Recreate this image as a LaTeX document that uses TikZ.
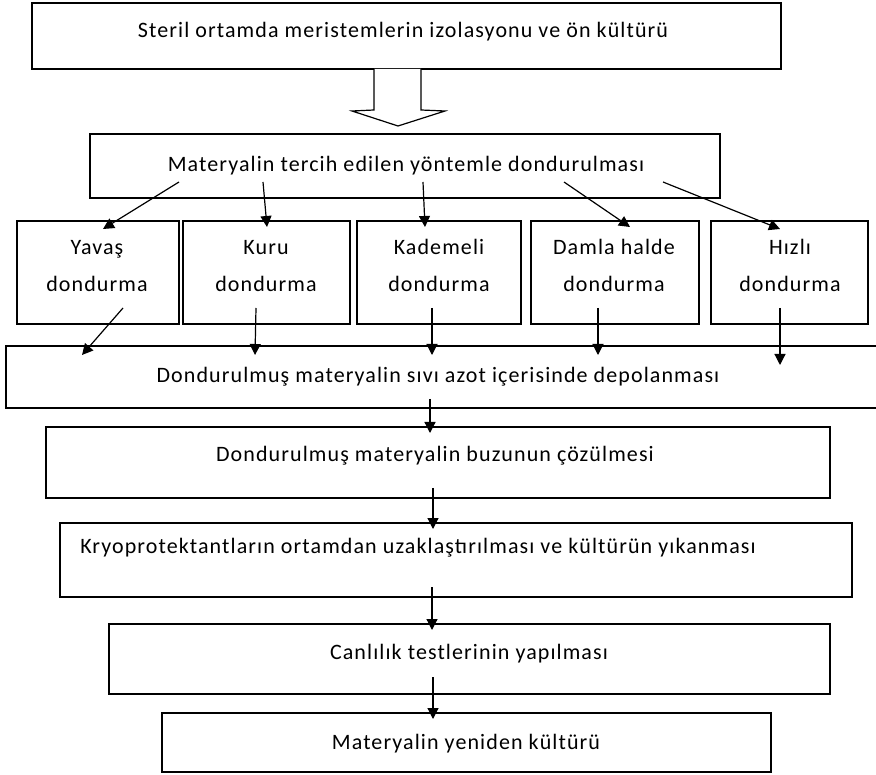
\documentclass[tikz,border=0pt]{standalone}
\usepackage{fontspec}
\setmainfont{Carlito}[LetterSpace=5]
\usetikzlibrary{arrows.meta,calc}
\begin{document}
\begin{tikzpicture}[x=1pt,y=-1pt,
  box/.style={draw=black, line width=1.4pt, rectangle, inner sep=0pt, outer sep=0pt},
  lbl/.style={font=\fontsize{22}{37}\selectfont, inner sep=0pt, anchor=base, align=center},
  arr/.style={draw=black, line width=1.2pt, -{Triangle[length=11pt,width=11pt]}}]
\useasboundingbox (0,0) rectangle (876,775);
\fill[white] (0,0) rectangle (876,775);

% process boxes
\node[box, minimum width=749pt, minimum height=66pt] (s1) at (406.5,36) {};
\node[box, minimum width=630pt, minimum height=64pt] (b2) at (405,166) {};
\node[box, minimum width=162pt, minimum height=103pt] (ya) at (98,272.5) {};
\node[box, minimum width=167pt, minimum height=103pt] (ku) at (266.5,272.5) {};
\node[box, minimum width=164pt, minimum height=103pt] (ka) at (439,272.5) {};
\node[box, minimum width=168pt, minimum height=103pt] (da) at (615,272.5) {};
\node[box, minimum width=157pt, minimum height=103pt] (hi) at (789.5,272.5) {};
\node[box, minimum width=874pt, minimum height=62pt] (st) at (443,377) {};
\node[box, minimum width=784pt, minimum height=71pt] (th) at (438,462.5) {};
\node[box, minimum width=792pt, minimum height=74pt] (kr) at (456,560) {};
\node[box, minimum width=721pt, minimum height=70pt] (ca) at (469.5,659) {};
\node[box, minimum width=609pt, minimum height=59pt] (fi) at (466.5,742.5) {};

% box texts (base anchor sits on the last line)
\node[lbl] (t-s1) at (403,38) {Steril ortamda meristemlerin izolasyonu ve ön kültürü};
\node[lbl] (t-b2) at (406,172) {Materyalin tercih edilen yöntemle dondurulması};
\node[lbl] (t-ya) at (97,292) {Yavaş\\dondurma};
\node[lbl] (t-ku) at (266,292) {Kuru\\dondurma};
\node[lbl] (t-ka) at (439,292) {Kademeli\\dondurma};
\node[lbl] (t-da) at (614,292) {Damla halde\\dondurma};
\node[lbl] (t-hi) at (790,292) {Hızlı\\dondurma};
\node[lbl] (t-st) at (438,383) {Dondurulmuş materyalin sıvı azot içerisinde depolanması};
\node[lbl] (t-th) at (435,462) {Dondurulmuş materyalin buzunun çözülmesi};
\node[lbl] (t-kr) at (418,553) {Kryoprotektantların ortamdan uzaklaştırılması ve kültürün yıkanması};
\node[lbl] (t-ca) at (469,659) {Canlılık testlerinin yapılması};
\node[lbl] (t-fi) at (466,749) {Materyalin yeniden kültürü};

% hollow block arrow between the first two boxes
\draw[line width=1.2pt, fill=white, line join=miter]
  ($(s1.south)+(-32.5,0)$) -- ++(0,41) -- ++(-22,1) -- ($(s1.south)+(-8.5,57)$)
  -- ($(s1.south)+(38.5,42)$) -- ++(-24,-1) -- ($(s1.south)+(14.5,0)$);

% branches to the freezing methods
\draw[arr] ($(b2.north west)+(89,48)$)  -- ($(ya.north west)+(86,8)$);
\draw[arr] ($(b2.north west)+(173,48)$) -- ($(ku.north west)+(84,6)$);
\draw[arr] ($(b2.north west)+(333,48)$) -- ($(ka.north west)+(68,6)$);
\draw[arr] ($(b2.north west)+(474,48)$) -- ($(da.north west)+(99,6)$);
\draw[arr] ($(b2.north west)+(573,48)$) -- ($(hi.north west)+(69,8)$);

% methods into storage
\draw[arr] ($(ya.south west)+(106,-16)$) -- ($(st.north west)+(76,9)$);
\draw[arr] ($(ku.south west)+(73,-16)$)  -- ($(st.north west)+(249,9)$);
\draw[arr] ($(ka.south west)+(75,-16)$)  -- ($(st.north west)+(426,9)$);
\draw[arr] ($(da.south west)+(67,-16)$)  -- ($(st.north west)+(592,9)$);
\draw[arr] ($(hi.south west)+(69,-16)$)  -- ($(st.north west)+(774,19)$);

% main chain
\draw[arr] ($(st.south west)+(424,-9)$)  -- ($(th.north west)+(384,6)$);
\draw[arr] ($(th.south west)+(387,-10)$) -- ($(kr.north west)+(373,6)$);
\draw[arr] ($(kr.south west)+(372,-10)$) -- ($(ca.north west)+(323,6)$);
\draw[arr] ($(ca.south west)+(324,-17)$) -- ($(fi.north west)+(271,6)$);
\end{tikzpicture}
\end{document}
